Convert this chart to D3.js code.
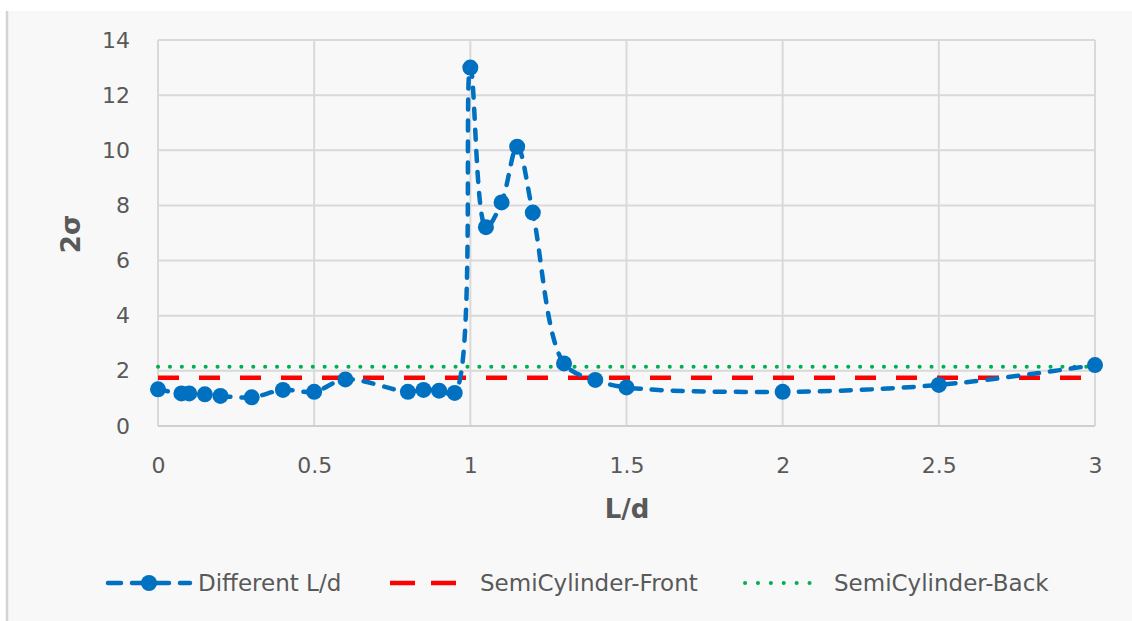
<!DOCTYPE html>
<html><head><meta charset="utf-8">
<script src="https://cdn.jsdelivr.net/npm/d3@7"></script>
<style>
html,body{margin:0;padding:0;background:#fff;}
svg{display:block;}
</style></head>
<body>
<svg id="chart" width="1132" height="621"></svg>
<script>
const ldValues = [0,0.075,0.1,0.15,0.2,0.3,0.4,0.5,0.6,0.8,0.85,0.9,0.95,1,1.05,1.1,1.15,1.2,1.3,1.4,1.5,2,2.5,3];
const sigmaValues = [1.33,1.18,1.18,1.15,1.09,1.04,1.31,1.24,1.69,1.24,1.31,1.28,1.2,13.0,7.21,8.11,10.13,7.74,2.27,1.67,1.4,1.24,1.49,2.21];
const semiFront = 1.75;
const semiBack = 2.15;
const xTicks = [0,0.5,1,1.5,2,2.5,3];
const yTicks = [0,2,4,6,8,10,12,14];
const seriesNames = ["Different L/d","SemiCylinder-Front","SemiCylinder-Back"];

(function(){
const svg = d3.select("#chart");
const font = "'DejaVu Sans', sans-serif";
const pL = 158, pR = 1095, pT = 40, pB = 426;
const tickFs = 22, legFs = 23, titleFs = 26;

// chart background frame
svg.append("rect").attr("x",7).attr("y",11).attr("width",1125).attr("height",610).attr("fill","#f8f8f8");
svg.append("line").attr("x1",7).attr("x2",7).attr("y1",11).attr("y2",621).attr("stroke","#d4d4d4").attr("stroke-width",2.5);

const x = d3.scaleLinear().domain([0,3]).range([pL,pR]);
const y = d3.scaleLinear().domain([0,14]).range([pB,pT]);

// grid
const g = svg.append("g");
g.selectAll(".hg").data(yTicks).join("line")
  .attr("x1",pL).attr("x2",pR).attr("y1",d=>y(d)).attr("y2",d=>y(d))
  .attr("stroke","#d9d9d9").attr("stroke-width",2);
g.selectAll(".vg").data(xTicks).join("line")
  .attr("y1",pT).attr("y2",pB).attr("x1",d=>x(d)).attr("x2",d=>x(d))
  .attr("stroke","#d9d9d9").attr("stroke-width",2);
g.append("line").attr("x1",pL).attr("x2",pR).attr("y1",pB).attr("y2",pB)
  .attr("stroke","#cfcfcf").attr("stroke-width",2);

// axes labels via d3 axes
const xAxis = svg.append("g").attr("transform",`translate(0,${pB})`)
  .call(d3.axisBottom(x).tickValues(xTicks).tickSize(0).tickPadding(31).tickFormat(d3.format("")));
xAxis.select(".domain").remove();
xAxis.selectAll("text").attr("font-family",font).attr("font-size",tickFs).attr("fill","#595959");

const yAxis = svg.append("g").attr("transform",`translate(${pL},0)`)
  .call(d3.axisLeft(y).tickValues(yTicks).tickSize(0).tickPadding(28));
yAxis.select(".domain").remove();
yAxis.selectAll("text").attr("font-family",font).attr("font-size",tickFs).attr("fill","#595959");

// axis titles
svg.append("text").attr("x",627).attr("y",518).attr("text-anchor","middle")
  .attr("font-family",font).attr("font-weight","bold").attr("font-size",titleFs).attr("fill","#595959").text("L/d");
svg.append("text").attr("transform","translate(80,234) rotate(-90)").attr("text-anchor","middle")
  .attr("font-family",font).attr("font-weight","bold").attr("font-size",titleFs).attr("fill","#595959").text("2σ");

// reference lines
svg.append("line").attr("x1",x(0)).attr("x2",x(3)).attr("y1",y(semiBack)).attr("y2",y(semiBack))
  .attr("stroke","#00B050").attr("stroke-width",4).attr("stroke-linecap","round").attr("stroke-dasharray","0.1,11.8");
svg.append("line").attr("x1",x(0)).attr("x2",x(3)).attr("y1",y(semiFront)).attr("y2",y(semiFront))
  .attr("stroke","#FF0000").attr("stroke-width",4.5).attr("stroke-dasharray","21,20");

// main series
const pts = ldValues.map((v,i)=>[v,sigmaValues[i]]);
const line = d3.line().x(d=>x(d[0])).y(d=>y(d[1])).curve(d3.curveCatmullRom.alpha(0.5));
svg.append("path").attr("d",line(pts)).attr("fill","none").attr("stroke","#0070C0")
  .attr("stroke-width",4.5).attr("stroke-linecap","round").attr("stroke-dasharray","10,11");
svg.selectAll(".mk").data(pts).join("circle")
  .attr("cx",d=>x(d[0])).attr("cy",d=>y(d[1])).attr("r",8).attr("fill","#0070C0");

// legend
const ly = 583;
const leg = svg.append("g");
leg.append("line").attr("x1",108).attr("x2",190).attr("y1",ly).attr("y2",ly)
  .attr("stroke","#0070C0").attr("stroke-width",4.5).attr("stroke-linecap","round").attr("stroke-dasharray","13,11");
leg.append("circle").attr("cx",149).attr("cy",ly).attr("r",8).attr("fill","#0070C0");
leg.append("text").attr("x",198).attr("y",ly).attr("dy","0.36em").attr("font-family",font).attr("font-size",legFs).attr("fill","#595959").text(seriesNames[0]);

leg.append("line").attr("x1",390).attr("x2",456).attr("y1",ly).attr("y2",ly)
  .attr("stroke","#FF0000").attr("stroke-width",4.5).attr("stroke-dasharray","25,16");
leg.append("text").attr("x",480).attr("y",ly).attr("dy","0.36em").attr("font-family",font).attr("font-size",legFs).attr("fill","#595959").text(seriesNames[1]);

leg.append("line").attr("x1",745).attr("x2",822).attr("y1",ly).attr("y2",ly)
  .attr("stroke","#00B050").attr("stroke-width",4).attr("stroke-linecap","round").attr("stroke-dasharray","0.1,12.8");
leg.append("text").attr("x",834).attr("y",ly).attr("dy","0.36em").attr("font-family",font).attr("font-size",legFs).attr("fill","#595959").text(seriesNames[2]);
})();
</script>
</body></html>
